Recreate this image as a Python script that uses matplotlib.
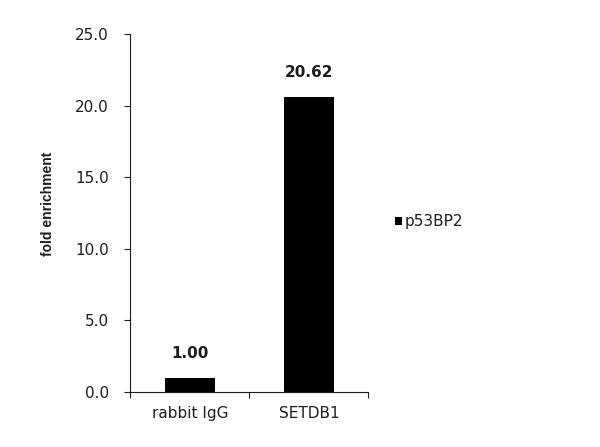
import matplotlib.pyplot as plt

categories = ['rabbit IgG', 'SETDB1']
values = [1.00, 20.62]
value_labels = ['1.00', '20.62']
series_name = 'p53BP2'
yticks = [0, 5, 10, 15, 20, 25]

plt.rcParams['font.family'] = ['DejaVu Sans']
ink = '#1c1c1c'

fig = plt.figure(figsize=(6, 4.47), dpi=100)
ax = fig.add_axes([0.217, 0.123, 0.397, 0.801])

x = range(len(categories))
ax.bar(x, values, width=0.42, color='black', label=series_name)

# data labels above the bars
for xi, v, lab in zip(x, values, value_labels):
    ax.annotate(lab, (xi, v), xytext=(0, 12), textcoords='offset points',
                ha='center', va='bottom', fontsize=11, fontweight='bold', color=ink)

ax.set_xlim(-0.5, len(categories) - 0.5)
ax.set_ylim(0, 25)
ax.set_yticks(yticks)
ax.set_yticklabels([f'{t:.1f}' for t in yticks], fontsize=11, color=ink)
ax.set_xticks(list(x))
ax.set_xticklabels(categories, fontsize=11, color=ink)
ax.tick_params(axis='x', which='major', length=0, pad=10)
ax.set_xticks([-0.5, 0.5, 1.5], minor=True)
ax.tick_params(axis='x', which='minor', length=4, width=0.8, direction='out', color=ink)
ax.tick_params(axis='y', length=4.5, width=0.8, direction='out', pad=11, color=ink)

ax.spines['top'].set_visible(False)
ax.spines['right'].set_visible(False)
for s in ('left', 'bottom'):
    ax.spines[s].set_linewidth(0.8)
    ax.spines[s].set_color(ink)

ax.set_ylabel('fold enrichment', fontsize=10, fontweight='bold', color=ink,
              family=['Liberation Sans', 'DejaVu Sans'])
ax.yaxis.set_label_coords(-0.317, 0.525)

fig.legend(loc='center left', bbox_to_anchor=(395 / 600, 1 - 222 / 447), frameon=False,
           fontsize=11, handlelength=0.46, handleheight=0.46, handletextpad=0.15,
           borderpad=0, borderaxespad=0, labelcolor=ink)

fig.savefig('out.png', dpi=100)
